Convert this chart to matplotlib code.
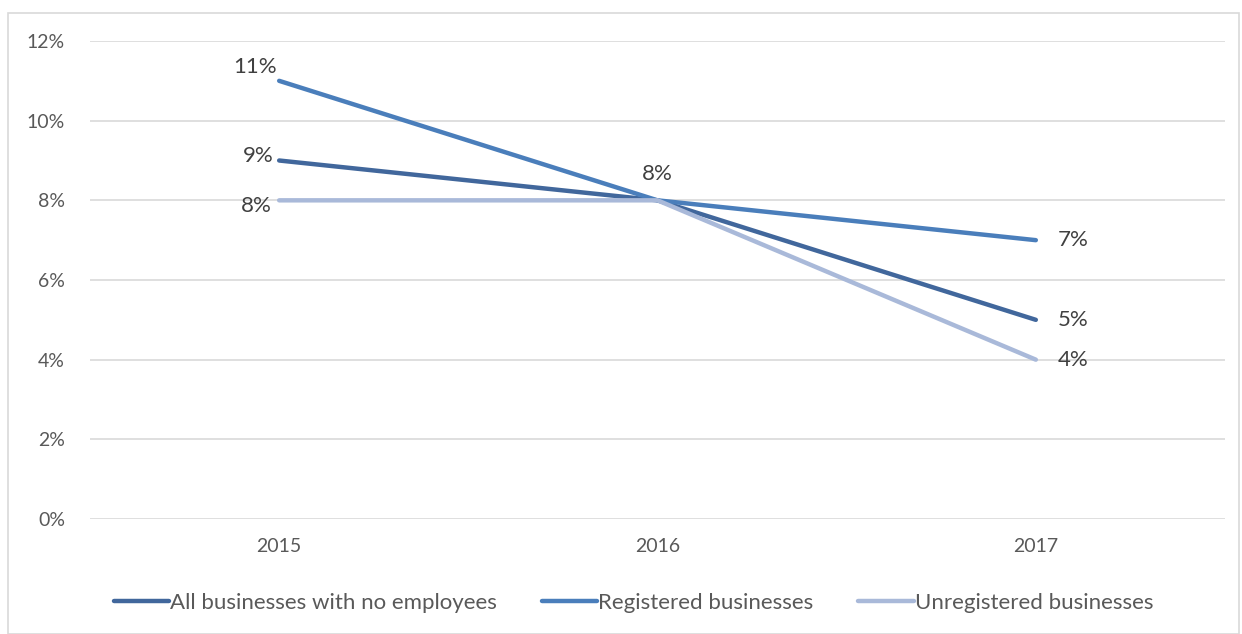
import matplotlib
matplotlib.use("Agg")
import matplotlib.pyplot as plt
from matplotlib.patches import Rectangle

years = ["2015", "2016", "2017"]
series_names = ["All businesses with no employees", "Registered businesses", "Unregistered businesses"]
all_biz = [0.09, 0.08, 0.05]
registered = [0.11, 0.08, 0.07]
unregistered = [0.08, 0.08, 0.04]
colors = ["#41679C", "#4A7EBB", "#A9B9D9"]
yticks = [0, 0.02, 0.04, 0.06, 0.08, 0.10, 0.12]

plt.rcParams['font.family'] = ['Lato', 'DejaVu Sans']

fig = plt.figure(figsize=(12.42, 6.34), dpi=100)
fig.patches.append(Rectangle((8/1242, 0), 1231/1242, 1 - 13/634, transform=fig.transFigure,
                             fill=False, edgecolor="#D9D9D9", linewidth=1.2))
ax = fig.add_axes([90/1242, 1 - 519/634, 1135/1242, (519 - 41)/634])

x = list(range(len(years)))
data = [all_biz, registered, unregistered]
lines = []
for vals, c, name in zip(data, colors, series_names):
    ln, = ax.plot(x, vals, color=c, linewidth=3.2, solid_capstyle="round", label=name, zorder=3)
    lines.append(ln)

def pct(v):
    return f"{round(v*100):d}%"

txtcol = "#404040"
fs = 16
# 2015 labels (left of point)
offs_2015 = [(-4, 3), (-2, 10), (-5, -4)]
for vals, (dx, dy) in zip(data, offs_2015):
    ax.annotate(pct(vals[0]), (0, vals[0]), xytext=(dx, dy), textcoords="offset points",
                ha="right", va="center", fontsize=fs, color=txtcol, zorder=4)
# 2016 label above
ax.annotate(pct(registered[1]), (1, registered[1]), xytext=(0, 19), textcoords="offset points",
            ha="center", va="center", fontsize=fs, color=txtcol, zorder=4)
# 2017 labels right
for vals in data:
    ax.annotate(pct(vals[2]), (2, vals[2]), xytext=(16, 0), textcoords="offset points",
                ha="left", va="center", fontsize=fs, color=txtcol, zorder=4)

ax.set_xlim(-0.5, 2.5)
ax.set_ylim(0, 0.12)
ax.set_yticks(yticks)
ax.set_yticklabels([pct(v) for v in yticks])
ax.set_xticks(x)
ax.set_xticklabels(years)
ax.grid(axis="y", color="#D9D9D9", linewidth=1.2, zorder=0)
ax.set_axisbelow(True)
for s in ax.spines.values():
    s.set_visible(False)
ax.tick_params(axis="both", length=0, labelsize=14, colors="#595959")
ax.tick_params(axis="y", pad=18)
ax.tick_params(axis="x", pad=14)

fig.legend(handles=lines, loc="center", bbox_to_anchor=(0.51, 1 - 603/634), ncol=3,
           frameon=False, fontsize=16, handlelength=2.5, handletextpad=0.05, columnspacing=2.0,
           labelcolor="#595959")

fig.savefig("out.png", dpi=100)
